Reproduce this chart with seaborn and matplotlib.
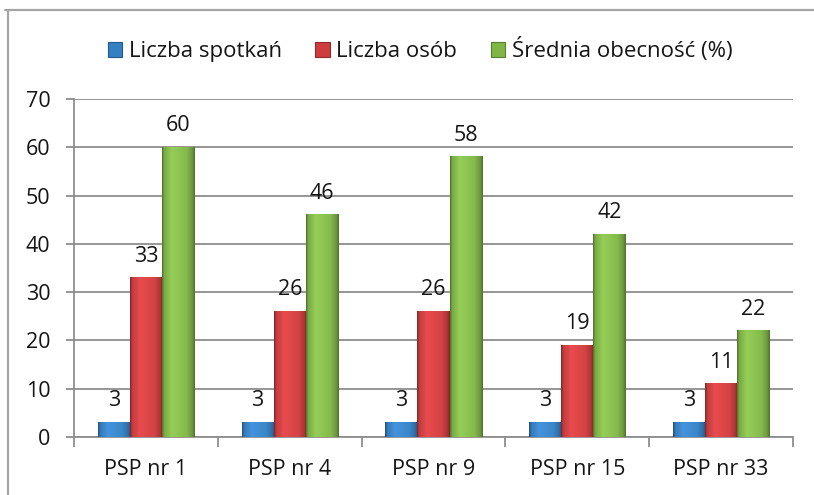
import numpy as np
import pandas as pd
import matplotlib
matplotlib.use("Agg")
import matplotlib.pyplot as plt
import matplotlib.colors as mcolors
from matplotlib.lines import Line2D
from matplotlib.patches import Patch
import seaborn as sns

categories = ["PSP nr 1", "PSP nr 4", "PSP nr 9", "PSP nr 15", "PSP nr 33"]
series = ["Liczba spotkań", "Liczba osób", "Średnia obecność (%)"]
spotkan = [3, 3, 3, 3, 3]
osob = [33, 26, 26, 19, 11]
obecnosc = [60, 46, 58, 42, 22]
y_ticks = [0, 10, 20, 30, 40, 50, 60, 70]

colors = ["#3480c4", "#cf3c3e", "#80b646"]

df = pd.DataFrame({
    "cat": categories * 3,
    "series": [series[0]] * 5 + [series[1]] * 5 + [series[2]] * 5,
    "value": spotkan + osob + obecnosc,
})

sns.set_theme(style="white")
plt.rcParams["font.family"] = ["Open Sans", "DejaVu Sans"]

fig = plt.figure(figsize=(8.14, 4.95), dpi=100)
ax = fig.add_axes([74 / 814, 1 - 437 / 495, (793 - 74) / 814, (437 - 99) / 495])

sns.barplot(data=df, x="cat", y="value", hue="series", palette=colors,
            width=0.67, ax=ax, legend=False, saturation=1,
            edgecolor="none", zorder=3)

ax.set_ylim(0, 70)
ax.set_xlim(-0.5, 4.5)
ax.set_yticks(y_ticks)
ax.set_xlabel("")
ax.set_ylabel("")
ax.grid(axis="y", color="#8e8e8e", linewidth=1.3, zorder=0)
ax.set_axisbelow(True)
for s in ["top", "right"]:
    ax.spines[s].set_visible(False)
for s in ["left", "bottom"]:
    ax.spines[s].set_color("#8e8e8e")
    ax.spines[s].set_linewidth(1.3)

ax.tick_params(axis="y", length=6, width=1.3, color="#8e8e8e", pad=11,
               labelsize=15.5, labelcolor="#151515", left=True)
ax.set_xticks(range(len(categories)))
ax.set_xticklabels(categories)
ax.tick_params(axis="x", which="major", length=0, pad=16, labelsize=15.5,
               labelcolor="#151515")
ax.set_xticks(np.arange(-0.5, len(categories), 1.0), minor=True)
ax.tick_params(axis="x", which="minor", length=7.5, width=1.3,
               color="#8e8e8e", bottom=True)

# shading gradient on each bar
def shade(base):
    r, g, b = mcolors.to_rgb(base)
    base = np.array([r, g, b])
    dark = base * 0.62
    light = np.clip(base * 1.08 + 0.04, 0, 1)
    xs = np.linspace(0, 1, 64)
    prof = np.interp(xs, [0, 0.06, 0.3, 0.75, 0.93, 1.0], [0, 0.6, 1.0, 0.78, 0.4, 0])
    img = np.zeros((1, 64, 3))
    for i, p in enumerate(prof):
        img[0, i] = dark + (light - dark) * p
    return img

for cont, col in zip(ax.containers, colors):
    img = shade(col)
    for bar in cont:
        x0, y0 = bar.get_x(), bar.get_y()
        w, h = bar.get_width(), bar.get_height()
        ax.imshow(img, extent=[x0, x0 + w, y0, y0 + h], aspect="auto",
                  zorder=3.5, interpolation="bilinear")
    ax.bar_label(cont, padding=8, fontsize=15.5, color="#151515")

ax.set_xlim(-0.5, 4.5)
ax.set_ylim(0, 70)

handles = [Patch(facecolor=c, edgecolor=mcolors.to_hex(np.array(mcolors.to_rgb(c)) * 0.7),
                 linewidth=0.8) for c in colors]
fig.legend(handles, series, loc="center", bbox_to_anchor=(420 / 814, 1 - 50 / 495),
           ncol=3, frameon=False, fontsize=16, handlelength=0.65, handleheight=0.65,
           handletextpad=0.3, columnspacing=1.5, labelcolor="#151515")

# outer frame lines
fig.add_artist(Line2D([8 / 814, 8 / 814], [0, 1 - 10 / 495], color="#a5a5a5", lw=1.6,
                      transform=fig.transFigure))
fig.add_artist(Line2D([5 / 814, 1], [1 - 10 / 495, 1 - 10 / 495], color="#a5a5a5", lw=1.6,
                      transform=fig.transFigure))

fig.savefig("out.png", dpi=100)
